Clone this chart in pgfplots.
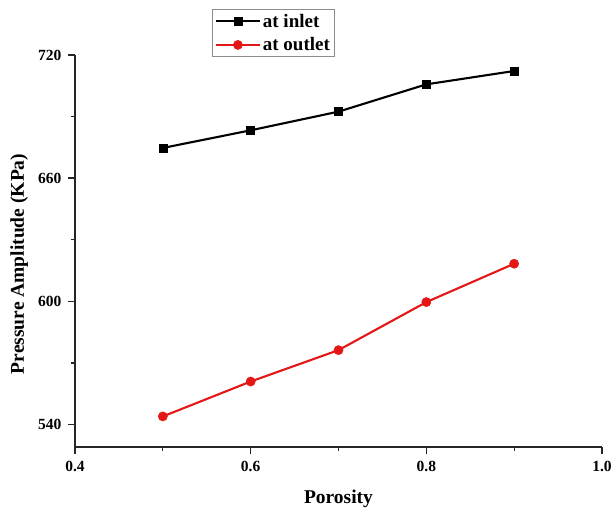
\documentclass[border=0pt]{standalone}
\usepackage{fontspec}
\setmainfont{Liberation Serif}
\usepackage{pgfplots}
\pgfplotsset{compat=1.18}
\definecolor{myred}{RGB}{228,22,22}
\begin{document}
\begin{tikzpicture}
\begin{axis}[
  scale only axis,
  width=527bp, height=392bp,
  xmin=0.4, xmax=1.0, ymin=529, ymax=720,
  axis lines=left,
  axis line style={-, line width=1.5bp, color=black!85},
  xtick={0.4,0.6,0.8,1.0},
  ytick={540,600,660,720},
  minor tick num=1,
  tick align=outside,
  major tick length=7bp,
  minor tick length=4bp,
  tick style={line width=1.3bp, color=black!85},
  /pgf/number format/assume math mode=true,
  tick label style={font=\fontsize{15.5bp}{17bp}\selectfont\bfseries},
  xticklabel style={/pgf/number format/.cd, fixed, fixed zerofill, precision=1, /tikz/yshift=-4bp},
  yticklabel style={/pgf/number format/.cd, fixed, precision=0, /tikz/xshift=-3bp},
  xlabel={Porosity},
  ylabel={Pressure Amplitude (KPa)},
  label style={font=\fontsize{19.5bp}{21bp}\selectfont\bfseries},
  x label style={at={(axis description cs:0.5,-0.133)}, anchor=center},
  y label style={at={(axis description cs:-0.106,0.467)}, anchor=center},
  clip=false,
  legend style={at={(axis description cs:0.26,1.117)}, anchor=north west,
    draw=black!45, line width=0.6bp, font=\fontsize{19bp}{21bp}\selectfont\bfseries,
    /tikz/every even column/.append style={column sep=2bp},
    row sep=5bp, inner sep=2.5bp},
  legend cell align=left,
  legend image code/.code={\draw[mark repeat=2,mark phase=2] plot coordinates {(0bp,0bp) (22bp,0bp) (44bp,0bp)};},
]
\addplot[black, line width=2.1bp, mark=square*, mark size=4bp, mark options={solid, line width=0.5bp}]
  coordinates {(0.5,674.7) (0.6,683.3) (0.7,692.4) (0.8,705.7) (0.9,712.2)};
\addlegendentry{at inlet}
\addplot[myred, line width=2.1bp, mark=*, mark size=4.6bp, mark options={solid, line width=0.5bp}]
  coordinates {(0.5,543.9) (0.6,560.9) (0.7,576.2) (0.8,599.6) (0.9,618.3)};
\addlegendentry{at outlet}
\end{axis}
\pgfresetboundingbox
\path (-75bp,-61bp) rectangle (537bp,447bp);
\end{tikzpicture}
\end{document}
